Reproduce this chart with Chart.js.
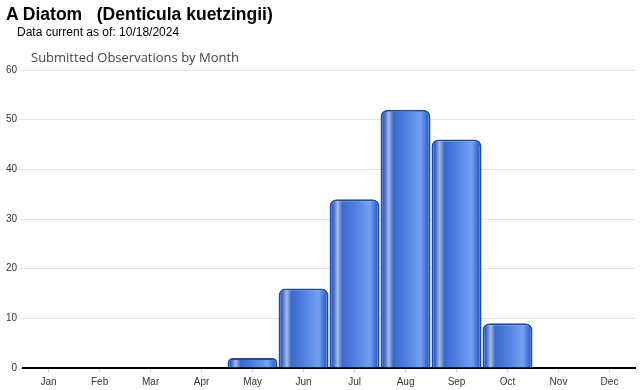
<!DOCTYPE html>
<html lang="en">
<head>
  <meta charset="UTF-8" />
  <title>A Diatom (Denticula kuetzingii)</title>
  <style>
    body {
      margin: 0;
      background: #fff;
      font-family: "Liberation Sans", Arial, sans-serif;
    }
    .wrap {
      position: relative;
      width: 640px;
      height: 390px;
    }
    .title {
      position: absolute;
      left: 6px;
      top: 4px;
      font-size: 17.5px;
      font-weight: bold;
      color: #000;
      white-space: pre;
    }
    .current {
      position: absolute;
      left: 17px;
      top: 25px;
      font-size: 12px;
      color: #000;
    }
    .sub {
      position: absolute;
      left: 31px;
      top: 48px;
      font-family: "Open Sans", sans-serif;
      font-size: 13px;
      color: #444;
    }
    canvas {
      position: absolute;
      left: 0;
      top: 0;
    }
  </style>
</head>
<body>
  <div class="wrap">
    <canvas id="chart" width="640" height="390"></canvas>
    <div class="title">A Diatom   (Denticula kuetzingii)</div>
    <div class="current">Data current as of: 10/18/2024</div>
    <div class="sub">Submitted Observations by Month</div>
  </div>

  <script src="https://cdn.jsdelivr.net/npm/chart.js"></script>
  <script>
    const months = ["Jan", "Feb", "Mar", "Apr", "May", "Jun", "Jul", "Aug", "Sep", "Oct", "Nov", "Dec"];
    const observations = [0, 0, 0, 0, 2, 16, 34, 52, 46, 9, 0, 0];
    const yTicks = [0, 10, 20, 30, 40, 50, 60];

    // cylinder-like shading across each bar
    const barFill = (ctx) => {
      const chart = ctx.chart;
      const xs = chart.scales && chart.scales.x;
      if (!xs || ctx.dataIndex === undefined) return "#3a6fd8";
      const cx = xs.getPixelForValue(ctx.dataIndex);
      const w = xs.width / months.length;
      if (!isFinite(cx) || !isFinite(w) || w <= 0) return "#3a6fd8";
      const g = chart.ctx.createLinearGradient(cx - w / 2, 0, cx + w / 2, 0);
      g.addColorStop(0.0, "#1d4db2");
      g.addColorStop(0.08, "#3a66c6");
      g.addColorStop(0.17, "#a6bbe2");
      g.addColorStop(0.26, "#3c68cc");
      g.addColorStop(0.5, "#4f80e0");
      g.addColorStop(0.8, "#74a0f0");
      g.addColorStop(0.92, "#3a6ad2");
      g.addColorStop(1.0, "#1d4db2");
      return g;
    };

    new Chart(document.getElementById("chart"), {
      type: "bar",
      data: {
        labels: months,
        datasets: [{
          data: observations,
          backgroundColor: barFill,
          borderColor: "#1c4bae",
          borderWidth: 2,
          borderSkipped: "bottom",
          borderRadius: { topLeft: 7, topRight: 7 },
          barPercentage: 0.98,
          categoryPercentage: 1.0
        }]
      },
      options: {
        responsive: false,
        animation: false,
        layout: { padding: { top: 70, right: 5, left: 4, bottom: -2 } },
        plugins: {
          legend: { display: false },
          tooltip: { enabled: false }
        },
        scales: {
          x: {
            grid: {
              display: true,
              drawOnChartArea: false,
              drawTicks: true,
              tickLength: 4,
              offset: false,
              color: "#ccc"
            },
            border: { display: true, color: "#000", width: 2 },
            ticks: { color: "#333", font: { size: 10, family: "Liberation Sans" }, padding: 4 }
          },
          y: {
            min: 0,
            max: 60,
            afterBuildTicks: (axis) => { axis.ticks = yTicks.map(v => ({ value: v })); },
            grid: { color: "#e3e3e3", tickLength: 4 },
            border: { display: false },
            ticks: { color: "#333", font: { size: 10, family: "Liberation Sans" }, padding: 2 }
          }
        }
      }
    });
  </script>
</body>
</html>
